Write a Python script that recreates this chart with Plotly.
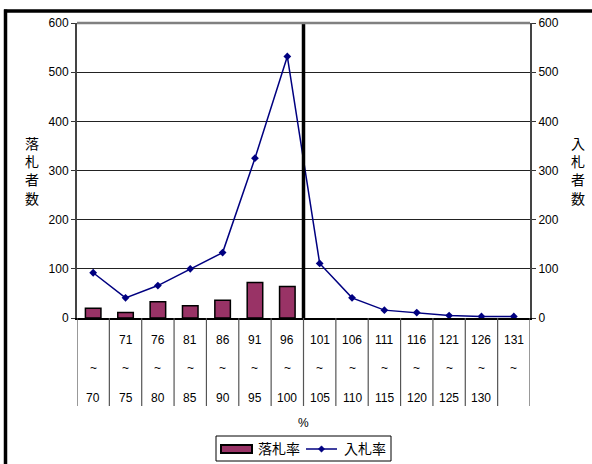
import plotly.graph_objects as go

# Price-ratio bands (%): lower bound, upper bound
band_low = ["", "71", "76", "81", "86", "91", "96", "101", "106", "111", "116", "121", "126", "131"]
band_high = ["70", "75", "80", "85", "90", "95", "100", "105", "110", "115", "120", "125", "130", ""]

# 落札率 (bars, left axis) and 入札率 (line, right axis)
award_counts = [20, 11, 33, 25, 36, 72, 64, 0, 0, 0, 0, 0, 0, 0]
bid_counts = [92, 41, 66, 100, 133, 325, 532, 111, 41, 16, 11, 5, 3, 3]

y_ticks = [0, 100, 200, 300, 400, 500, 600]

BAR_COLOR = "#993366"
LINE_COLOR = "#000080"
FONT = "Liberation Sans, Arial, Noto Sans CJK JP, sans-serif"
W, H = 592, 464
M_L, M_R, M_T, M_B = 77, 62, 23, 146
PLOT_H = H - M_T - M_B
PLOT_W = W - M_L - M_R
BOTTOM_PX = H - M_B


def py(px):
    """Pixel row -> paper y."""
    return (BOTTOM_PX - px) / PLOT_H


def pxx(px):
    """Pixel column -> paper x."""
    return (px - M_L) / PLOT_W


n = len(band_low)
xs = list(range(n))

fig = go.Figure()
fig.add_trace(go.Bar(
    x=xs, y=award_counts, name="落札率",
    marker=dict(color=BAR_COLOR,
                line=dict(color="black",
                          width=[1.5 if v > 0 else 0 for v in award_counts])),
    yaxis="y",
))
fig.add_trace(go.Scatter(
    x=xs, y=bid_counts, name="入札率", mode="lines+markers",
    line=dict(color=LINE_COLOR, width=1.5),
    marker=dict(symbol="diamond", size=6, color=LINE_COLOR),
    yaxis="y2",
))

shapes = []
# category table dividers below the axis
for i in range(n + 1):
    shapes.append(dict(type="line", xref="x", yref="paper",
                       x0=i - 0.5, x1=i - 0.5, y0=0, y1=py(406),
                       line=dict(color="#555555", width=1.2)))
# 100% boundary
shapes.append(dict(type="line", xref="x", yref="y", x0=6.5, x1=6.5, y0=0, y1=600,
                   line=dict(color="black", width=3.5)))
# top edge of plot area
shapes.append(dict(type="line", xref="paper", yref="paper", x0=0, x1=1, y0=1, y1=1,
                   line=dict(color="#808080", width=2.5)))
# outer frame (top and left edges)
shapes.append(dict(type="line", xref="paper", yref="paper",
                   x0=pxx(4), x1=pxx(600), y0=py(11), y1=py(11),
                   line=dict(color="black", width=3.5)))
shapes.append(dict(type="line", xref="paper", yref="paper",
                   x0=pxx(5.5), x1=pxx(5.5), y0=py(9.5), y1=py(470),
                   line=dict(color="black", width=3.5)))

# legend box with a wide bar swatch and a line-with-diamond swatch
LEG_Y = 449
shapes.append(dict(type="rect", xref="paper", yref="paper",
                   x0=pxx(216), x1=pxx(391), y0=py(461), y1=py(436),
                   line=dict(color="black", width=1), fillcolor="white"))
shapes.append(dict(type="rect", xref="paper", yref="paper",
                   x0=pxx(221), x1=pxx(252), y0=py(453), y1=py(445),
                   line=dict(color="black", width=2), fillcolor=BAR_COLOR))
shapes.append(dict(type="line", xref="paper", yref="paper",
                   x0=pxx(306), x1=pxx(337), y0=py(LEG_Y), y1=py(LEG_Y),
                   line=dict(color=LINE_COLOR, width=1.5)))
cx, d = 321.5, 3.2
diamond = (f"M {pxx(cx - d)},{py(LEG_Y)} L {pxx(cx)},{py(LEG_Y - d)} "
           f"L {pxx(cx + d)},{py(LEG_Y)} L {pxx(cx)},{py(LEG_Y + d)} Z")
shapes.append(dict(type="path", xref="paper", yref="paper", path=diamond,
                   line=dict(color=LINE_COLOR, width=0.5), fillcolor=LINE_COLOR))

annotations = []
for i in range(n):
    for txt, row in ((band_low[i], 340), ("~", 368), (band_high[i], 398)):
        if txt:
            annotations.append(dict(x=i, y=py(row), xref="x", yref="paper",
                                    text=txt, showarrow=False,
                                    font=dict(family=FONT, size=12, color="black"),
                                    xanchor="center", yanchor="middle"))
annotations.append(dict(x=0.5, y=py(423), xref="paper", yref="paper", text="%",
                        showarrow=False, font=dict(family=FONT, size=12, color="black"),
                        xanchor="center", yanchor="middle"))
annotations.append(dict(x=pxx(32), y=py(171), xref="paper", yref="paper",
                        text="落<br>札<br>者<br>数", showarrow=False,
                        font=dict(family=FONT, size=14, color="black"),
                        xanchor="center", yanchor="middle"))
annotations.append(dict(x=pxx(578), y=py(171), xref="paper", yref="paper",
                        text="入<br>札<br>者<br>数", showarrow=False,
                        font=dict(family=FONT, size=14, color="black"),
                        xanchor="center", yanchor="middle"))
annotations.append(dict(x=pxx(256), y=py(LEG_Y), xref="paper", yref="paper",
                        text="落札率", showarrow=False,
                        font=dict(family=FONT, size=14, color="black"),
                        xanchor="left", yanchor="middle"))
annotations.append(dict(x=pxx(342), y=py(LEG_Y), xref="paper", yref="paper",
                        text="入札率", showarrow=False,
                        font=dict(family=FONT, size=14, color="black"),
                        xanchor="left", yanchor="middle"))

axis_common = dict(
    range=[0, 600], tickvals=y_ticks, ticks="outside", ticklen=4,
    tickcolor="#333333", showline=True, linecolor="#444444", linewidth=2,
    tickfont=dict(family=FONT, size=12, color="black"), zeroline=False,
)

fig.update_layout(
    width=W, height=H,
    margin=dict(l=M_L, r=M_R, t=M_T, b=M_B, autoexpand=False),
    paper_bgcolor="white", plot_bgcolor="white",
    bargap=0.52,
    showlegend=False,
    xaxis=dict(range=[-0.5, n - 0.5], showticklabels=False, ticks="",
               showgrid=False, zeroline=False, showline=True,
               linecolor="black", linewidth=1.5),
    yaxis=dict(**axis_common, showgrid=True, gridcolor="#222222", gridwidth=1),
    yaxis2=dict(**axis_common, overlaying="y", side="right", showgrid=False),
    shapes=shapes,
    annotations=annotations,
)

fig.write_html("out.html")
